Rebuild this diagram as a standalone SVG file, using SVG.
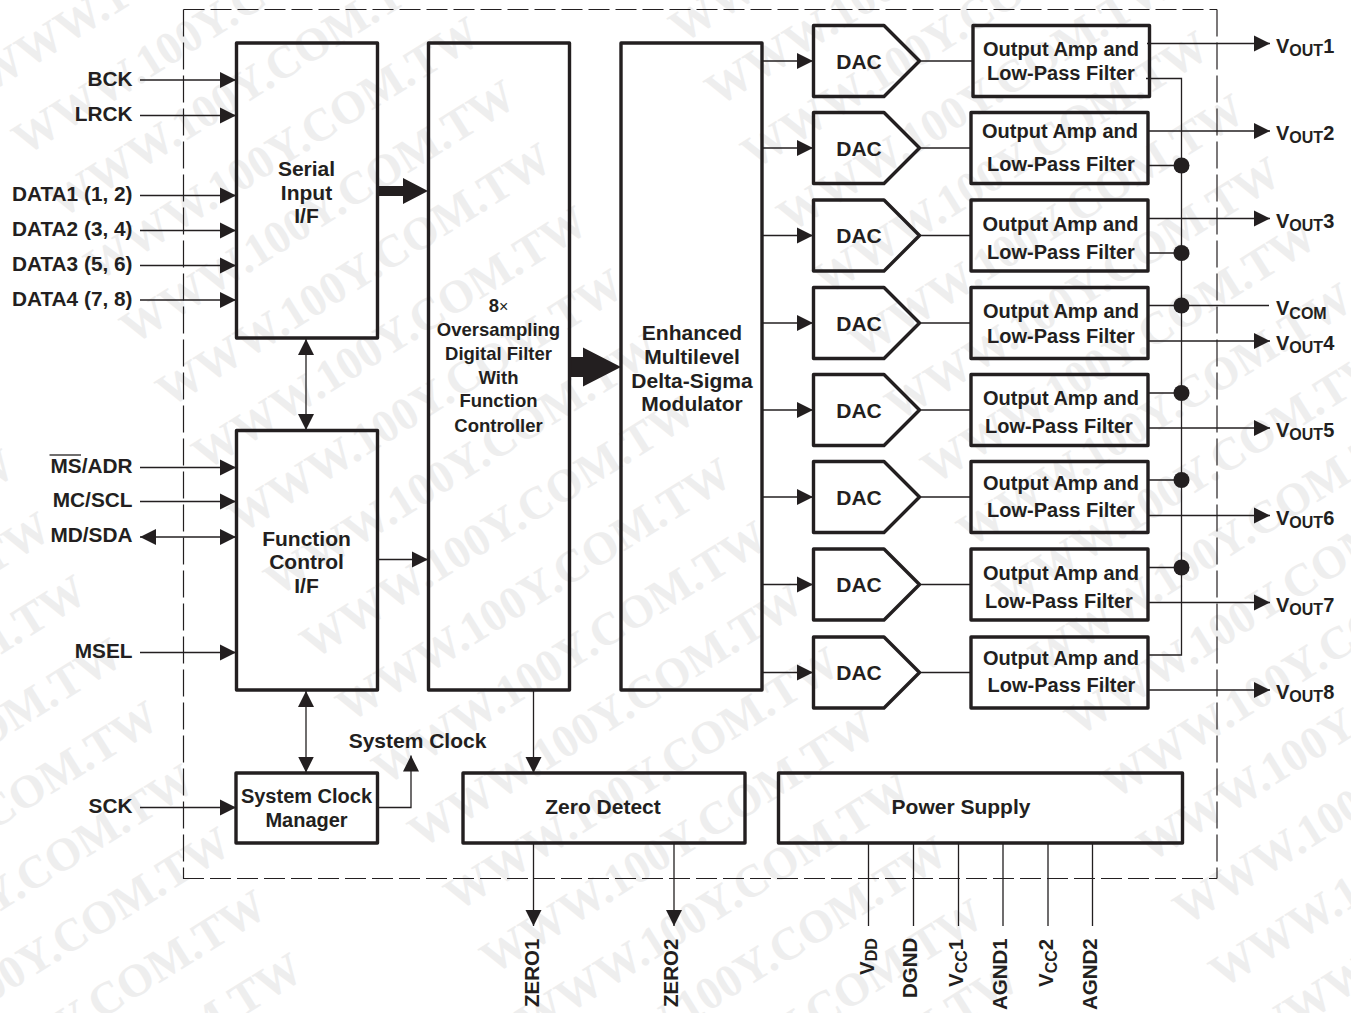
<svg xmlns="http://www.w3.org/2000/svg" width="1351" height="1013" viewBox="0 0 1351 1013">
<style>
text{font-family:"Liberation Sans",Arial,sans-serif;font-weight:700;fill:#231f20;font-size:20px}
.m{text-anchor:middle}
.e{text-anchor:end;font-size:20.8px}
.f21{font-size:21px}
.f18{font-size:18.5px}
.sub{font-size:16px}
.r{font-size:20.5px}
.wm{font-family:"Liberation Serif","Times New Roman",serif;font-size:46px;fill:#eeeeee;text-anchor:end}
.box{fill:none;stroke:#231f20;stroke-width:3.4;stroke-linejoin:round}
.ln{fill:none;stroke:#231f20;stroke-width:1.3}
.arr{marker-end:url(#ah)}
.arr2{marker-start:url(#ah);marker-end:url(#ah)}
.dash{fill:none;stroke:#231f20;stroke-width:1.2}
.dot{fill:#231f20}
.big{fill:#231f20}
</style>
<defs>
<marker id="ah" markerUnits="userSpaceOnUse" markerWidth="18" markerHeight="18" refX="16" refY="8.5" orient="auto-start-reverse"><path d="M0 0.500L16 8.500L0 16.500z" fill="#231f20"/></marker>
</defs>
<rect width="1351" height="1013" fill="#ffffff"/>
<g id="watermark">
<text class="wm" transform="translate(339 -211) rotate(-32)">WWW.100Y.COM.TW</text>
<text class="wm" transform="translate(375 -148) rotate(-32)">WWW.100Y.COM.TW</text>
<text class="wm" transform="translate(411 -85) rotate(-32)">WWW.100Y.COM.TW</text>
<text class="wm" transform="translate(447 -22) rotate(-32)">WWW.100Y.COM.TW</text>
<text class="wm" transform="translate(483 41) rotate(-32)">WWW.100Y.COM.TW</text>
<text class="wm" transform="translate(519 104) rotate(-32)">WWW.100Y.COM.TW</text>
<text class="wm" transform="translate(555 167) rotate(-32)">WWW.100Y.COM.TW</text>
<text class="wm" transform="translate(591 230) rotate(-32)">WWW.100Y.COM.TW</text>
<text class="wm" transform="translate(627 293) rotate(-32)">WWW.100Y.COM.TW</text>
<text class="wm" transform="translate(663 356) rotate(-32)">WWW.100Y.COM.TW</text>
<text class="wm" transform="translate(699 419) rotate(-32)">WWW.100Y.COM.TW</text>
<text class="wm" transform="translate(735 482) rotate(-32)">WWW.100Y.COM.TW</text>
<text class="wm" transform="translate(771 545) rotate(-32)">WWW.100Y.COM.TW</text>
<text class="wm" transform="translate(807 608) rotate(-32)">WWW.100Y.COM.TW</text>
<text class="wm" transform="translate(843 671) rotate(-32)">WWW.100Y.COM.TW</text>
<text class="wm" transform="translate(879 734) rotate(-32)">WWW.100Y.COM.TW</text>
<text class="wm" transform="translate(915 797) rotate(-32)">WWW.100Y.COM.TW</text>
<text class="wm" transform="translate(951 860) rotate(-32)">WWW.100Y.COM.TW</text>
<text class="wm" transform="translate(987 923) rotate(-32)">WWW.100Y.COM.TW</text>
<text class="wm" transform="translate(1023 986) rotate(-32)">WWW.100Y.COM.TW</text>
<text class="wm" transform="translate(18 473) rotate(-32)">WWW.100Y.COM.TW</text>
<text class="wm" transform="translate(54 536) rotate(-32)">WWW.100Y.COM.TW</text>
<text class="wm" transform="translate(90 599) rotate(-32)">WWW.100Y.COM.TW</text>
<text class="wm" transform="translate(126 662) rotate(-32)">WWW.100Y.COM.TW</text>
<text class="wm" transform="translate(162 725) rotate(-32)">WWW.100Y.COM.TW</text>
<text class="wm" transform="translate(198 788) rotate(-32)">WWW.100Y.COM.TW</text>
<text class="wm" transform="translate(234 851) rotate(-32)">WWW.100Y.COM.TW</text>
<text class="wm" transform="translate(270 914) rotate(-32)">WWW.100Y.COM.TW</text>
<text class="wm" transform="translate(306 977) rotate(-32)">WWW.100Y.COM.TW</text>
<text class="wm" transform="translate(1068 -197) rotate(-32)">WWW.100Y.COM.TW</text>
<text class="wm" transform="translate(1104 -134) rotate(-32)">WWW.100Y.COM.TW</text>
<text class="wm" transform="translate(1140 -71) rotate(-32)">WWW.100Y.COM.TW</text>
<text class="wm" transform="translate(1176 -8) rotate(-32)">WWW.100Y.COM.TW</text>
<text class="wm" transform="translate(1212 55) rotate(-32)">WWW.100Y.COM.TW</text>
<text class="wm" transform="translate(1248 118) rotate(-32)">WWW.100Y.COM.TW</text>
<text class="wm" transform="translate(1284 181) rotate(-32)">WWW.100Y.COM.TW</text>
<text class="wm" transform="translate(1320 244) rotate(-32)">WWW.100Y.COM.TW</text>
<text class="wm" transform="translate(1356 307) rotate(-32)">WWW.100Y.COM.TW</text>
<text class="wm" transform="translate(1392 370) rotate(-32)">WWW.100Y.COM.TW</text>
<text class="wm" transform="translate(1428 433) rotate(-32)">WWW.100Y.COM.TW</text>
<text class="wm" transform="translate(1464 496) rotate(-32)">WWW.100Y.COM.TW</text>
<text class="wm" transform="translate(1500 559) rotate(-32)">WWW.100Y.COM.TW</text>
<text class="wm" transform="translate(1536 622) rotate(-32)">WWW.100Y.COM.TW</text>
<text class="wm" transform="translate(1572 685) rotate(-32)">WWW.100Y.COM.TW</text>
<text class="wm" transform="translate(1608 748) rotate(-32)">WWW.100Y.COM.TW</text>
<text class="wm" transform="translate(1644 811) rotate(-32)">WWW.100Y.COM.TW</text>
</g>
<g id="boundary">
<path class="dash" stroke-dasharray="21 6" d="M183 878.500H1217"/>
<path class="dash" stroke-dasharray="21 6" d="M183.500 9.500H1217"/>
<path class="dash" stroke-dasharray="27 6" d="M183.500 9.500V878.500"/>
<path class="dash" stroke-dasharray="27 6" d="M1217 9.500V878.500"/>
</g>
<g id="connectors">
<path class="ln arr" d="M140 80H236"/>
<path class="ln arr" d="M140 115.500H236"/>
<path class="ln arr" d="M140 195.500H236"/>
<path class="ln arr" d="M140 230.500H236"/>
<path class="ln arr" d="M140 265.500H236"/>
<path class="ln arr" d="M140 300H236"/>
<path class="ln arr" d="M140 467.500H236"/>
<path class="ln arr" d="M140 501.500H236"/>
<path class="ln arr2" d="M140 537H236"/>
<path class="ln arr" d="M140 652.500H236"/>
<path class="ln arr" d="M140 807.500H236"/>
<path class="ln arr2" d="M306 339V430"/>
<path class="ln arr2" d="M306 691V772.500"/>
<path class="ln arr" d="M378 559.500H428"/>
<path class="ln arr" d="M378 807.500H411V755.500"/>
<path class="ln arr" d="M533.500 691V773"/>
<path class="ln arr" d="M533.500 844V926"/>
<path class="ln arr" d="M674 844V926"/>
<path class="big" d="M377 186H403V178L428 191L403 204V196H377z"/>
<path class="big" d="M569 357H583V347.500L621 367L583 386.500V377H569z"/>
<path class="ln arr" d="M762 61H813"/>
<path class="ln arr" d="M762 148H813"/>
<path class="ln arr" d="M762 235.500H813"/>
<path class="ln arr" d="M762 323H813"/>
<path class="ln arr" d="M762 410H813"/>
<path class="ln arr" d="M762 497H813"/>
<path class="ln arr" d="M762 584.500H813"/>
<path class="ln arr" d="M762 672.500H813"/>
<path class="ln" d="M919 61H973"/>
<path class="ln" d="M919 148H971"/>
<path class="ln" d="M919 235.500H971"/>
<path class="ln" d="M919 323H971"/>
<path class="ln" d="M919 410H971"/>
<path class="ln" d="M919 497H971"/>
<path class="ln" d="M919 584.500H971"/>
<path class="ln" d="M919 672.500H971"/>
<path class="ln arr" d="M1147 43.500H1270"/>
<path class="ln arr" d="M1148 131H1270"/>
<path class="ln arr" d="M1148 218.500H1270"/>
<path class="ln arr" d="M1148 341H1270"/>
<path class="ln arr" d="M1148 428H1270"/>
<path class="ln arr" d="M1148 515.500H1270"/>
<path class="ln arr" d="M1148 602.500H1270"/>
<path class="ln arr" d="M1148 690H1270"/>
<path class="ln" d="M1148 305.500H1269"/>
<path class="ln" d="M1146 78.500H1181.500V655H1148"/>
<path class="ln" d="M1148 165.500H1181.500M1148 253H1181.500M1148 393H1181.500M1148 480H1181.500M1148 567.500H1181.500"/>
<circle class="dot" cx="1181.500" cy="165.500" r="8"/>
<circle class="dot" cx="1181.500" cy="253" r="8"/>
<circle class="dot" cx="1181.500" cy="305.500" r="8"/>
<circle class="dot" cx="1181.500" cy="393" r="8"/>
<circle class="dot" cx="1181.500" cy="480" r="8"/>
<circle class="dot" cx="1181.500" cy="567.500" r="8"/>
<path class="ln" d="M868.500 844V926M913.500 844V926M958.500 844V926M1003 844V926M1048 844V926M1092.500 844V926"/>
</g>
<g id="serial-input"><rect class="box" x="236.500" y="43" width="141" height="295"/><text class="m f21" x="306.500" y="176">Serial</text><text class="m f21" x="306.500" y="199.500">Input</text><text class="m f21" x="306.500" y="223">I/F</text></g>
<g id="function-control"><rect class="box" x="236.500" y="430.500" width="141" height="259.500"/><text class="m f21" x="306.500" y="546">Function</text><text class="m f21" x="306.500" y="569">Control</text><text class="m f21" x="306.500" y="593">I/F</text></g>
<g id="system-clock-manager"><rect class="box" x="236" y="773" width="141.500" height="70"/><text class="m" x="306.500" y="803">System Clock</text><text class="m" x="306.500" y="827">Manager</text></g>
<g id="digital-filter"><rect class="box" x="428.500" y="43" width="141" height="647"/><text class="m f18" x="498.500" y="312">8<tspan font-weight="400" font-size="16">×</tspan></text><text class="m f18" x="498.500" y="336">Oversampling</text><text class="m f18" x="498.500" y="360">Digital Filter</text><text class="m f18" x="498.500" y="384">With</text><text class="m f18" x="498.500" y="407">Function</text><text class="m f18" x="498.500" y="432">Controller</text></g>
<g id="modulator"><rect class="box" x="621" y="43" width="141" height="647"/><text class="m f21" x="692" y="340">Enhanced</text><text class="m f21" x="692" y="364">Multilevel</text><text class="m f21" x="692" y="388">Delta-Sigma</text><text class="m f21" x="692" y="411">Modulator</text></g>
<g id="zero-detect"><rect class="box" x="463" y="773" width="282" height="70"/><text class="m f21" x="603" y="814">Zero Detect</text></g>
<g id="power-supply"><rect class="box" x="778.500" y="773" width="404" height="70"/><text class="m f21" x="961" y="814">Power Supply</text></g>
<g id="dac1"><path class="box" d="M813.500 25.500H884L919.500 61L884 96.500H813.500z"/><text class="m f21" x="859" y="69">DAC</text></g>
<g id="dac2"><path class="box" d="M813.500 112.500H884L919.500 148L884 183.500H813.500z"/><text class="m f21" x="859" y="156">DAC</text></g>
<g id="dac3"><path class="box" d="M813.500 200H884L919.500 235.500L884 271H813.500z"/><text class="m f21" x="859" y="243">DAC</text></g>
<g id="dac4"><path class="box" d="M813.500 287.500H884L919.500 323L884 358.500H813.500z"/><text class="m f21" x="859" y="331">DAC</text></g>
<g id="dac5"><path class="box" d="M813.500 374.500H884L919.500 410L884 445.500H813.500z"/><text class="m f21" x="859" y="418">DAC</text></g>
<g id="dac6"><path class="box" d="M813.500 461.500H884L919.500 497L884 532.500H813.500z"/><text class="m f21" x="859" y="505">DAC</text></g>
<g id="dac7"><path class="box" d="M813.500 549H884L919.500 584.500L884 620H813.500z"/><text class="m f21" x="859" y="592">DAC</text></g>
<g id="dac8"><path class="box" d="M813.500 637H884L919.500 672.500L884 708H813.500z"/><text class="m f21" x="859" y="680">DAC</text></g>
<g id="amp1"><rect class="box" x="973" y="25.500" width="176.500" height="71"/><text class="m" x="1061" y="56">Output Amp and</text><text class="m" x="1061" y="80">Low-Pass Filter</text></g>
<g id="amp2"><rect class="box" x="971" y="112.500" width="177" height="71"/><text class="m" x="1060" y="138">Output Amp and</text><text class="m" x="1061" y="171">Low-Pass Filter</text></g>
<g id="amp3"><rect class="box" x="971" y="200" width="177" height="71"/><text class="m" x="1060.500" y="231">Output Amp and</text><text class="m" x="1061" y="259">Low-Pass Filter</text></g>
<g id="amp4"><rect class="box" x="971" y="287.500" width="177" height="71"/><text class="m" x="1061" y="318">Output Amp and</text><text class="m" x="1061" y="343">Low-Pass Filter</text></g>
<g id="amp5"><rect class="box" x="971" y="374.500" width="177" height="71"/><text class="m" x="1061" y="405">Output Amp and</text><text class="m" x="1059" y="433">Low-Pass Filter</text></g>
<g id="amp6"><rect class="box" x="971" y="461.500" width="177" height="71"/><text class="m" x="1061" y="490">Output Amp and</text><text class="m" x="1061" y="517">Low-Pass Filter</text></g>
<g id="amp7"><rect class="box" x="971" y="549" width="177" height="71"/><text class="m" x="1061" y="580">Output Amp and</text><text class="m" x="1059" y="608">Low-Pass Filter</text></g>
<g id="amp8"><rect class="box" x="971" y="637" width="177" height="71"/><text class="m" x="1061" y="665">Output Amp and</text><text class="m" x="1061.500" y="692">Low-Pass Filter</text></g>
<g id="inputs">
<text class="e" x="132.500" y="86">BCK</text>
<text class="e" x="132.500" y="121">LRCK</text>
<text class="e" x="132.500" y="201">DATA1 (1, 2)</text>
<text class="e" x="132.500" y="236">DATA2 (3, 4)</text>
<text class="e" x="132.500" y="271">DATA3 (5, 6)</text>
<text class="e" x="132.500" y="306">DATA4 (7, 8)</text>
<text class="e" x="132.500" y="472.500">MS/ADR</text>
<path class="ln" d="M49.500 455H81"/>
<text class="e" x="132.500" y="507">MC/SCL</text>
<text class="e" x="132.500" y="541.500">MD/SDA</text>
<text class="e" x="132.500" y="657.500">MSEL</text>
<text class="e" x="132.500" y="812.500">SCK</text>
<text class="m f21" x="417.500" y="747.500">System Clock</text>
</g>
<g id="outputs">
<text x="1276" y="52.500">V<tspan class="sub" dy="3.500">OUT</tspan><tspan dy="-3.500">1</tspan></text>
<text x="1276" y="139.500">V<tspan class="sub" dy="3.500">OUT</tspan><tspan dy="-3.500">2</tspan></text>
<text x="1276" y="227.500">V<tspan class="sub" dy="3.500">OUT</tspan><tspan dy="-3.500">3</tspan></text>
<text x="1276" y="315">V<tspan class="sub" dy="3.500">COM</tspan></text>
<text x="1276" y="349.500">V<tspan class="sub" dy="3.500">OUT</tspan><tspan dy="-3.500">4</tspan></text>
<text x="1276" y="436.500">V<tspan class="sub" dy="3.500">OUT</tspan><tspan dy="-3.500">5</tspan></text>
<text x="1276" y="524.500">V<tspan class="sub" dy="3.500">OUT</tspan><tspan dy="-3.500">6</tspan></text>
<text x="1276" y="611.500">V<tspan class="sub" dy="3.500">OUT</tspan><tspan dy="-3.500">7</tspan></text>
<text x="1276" y="698.500">V<tspan class="sub" dy="3.500">OUT</tspan><tspan dy="-3.500">8</tspan></text>
</g>
<g id="bottom-pins">
<text class="r" transform="translate(538.500 1007) rotate(-90)">ZERO1</text>
<text class="r" transform="translate(678 1007) rotate(-90)">ZERO2</text>
<text class="r" transform="translate(873.500 975) rotate(-90)">V<tspan class="sub" dy="3.500">DD</tspan></text>
<text class="r" transform="translate(917 998) rotate(-90)">DGND</text>
<text class="r" transform="translate(963 987) rotate(-90)">V<tspan class="sub" dy="3.500">CC</tspan><tspan dy="-3.500">1</tspan></text>
<text class="r" transform="translate(1007 1010) rotate(-90)">AGND1</text>
<text class="r" transform="translate(1053 987) rotate(-90)">V<tspan class="sub" dy="3.500">CC</tspan><tspan dy="-3.500">2</tspan></text>
<text class="r" transform="translate(1097 1010) rotate(-90)">AGND2</text>
</g>
</svg>
